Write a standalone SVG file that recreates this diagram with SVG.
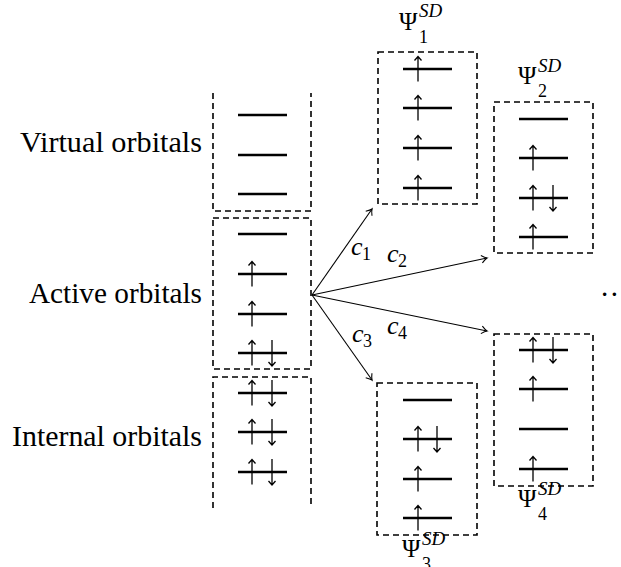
<svg xmlns="http://www.w3.org/2000/svg" xmlns:xlink="http://www.w3.org/1999/xlink" width="621" height="567" viewBox="0 0 621 567">
<style>
  .box { fill: none; stroke: #000; stroke-width: 1.6; stroke-dasharray: 6 4; }
  .orb { stroke: #000; stroke-width: 2.6; }
  .spin { fill: none; stroke: #000; stroke-width: 1.3; }
  .conn { fill: none; stroke: #000; stroke-width: 1.1; marker-end: url(#tip); }
  .lbl { font-family: "Liberation Serif", "Times New Roman", serif; font-size: 29px; fill: #000; }
  .psi { font-family: "Liberation Serif", "Times New Roman", serif; font-size: 25px; fill: #000; }
  .sup { font-family: "Liberation Serif", "Times New Roman", serif; font-size: 19px; font-style: italic; fill: #000; }
  .sub { font-family: "Liberation Serif", "Times New Roman", serif; font-size: 18px; fill: #000; }
  .ci { font-family: "Liberation Serif", "Times New Roman", serif; font-size: 26px; font-style: italic; fill: #000; }
</style>
<defs>
  <marker id="tip" markerUnits="userSpaceOnUse" markerWidth="12" markerHeight="12" refX="0" refY="0" viewBox="-7 -6 9 12" orient="auto" overflow="visible">
    <path d="M -5.5 -3.8 Q -1.8 -0.6 0 0 Q -1.8 0.6 -5.5 3.8" fill="none" stroke="#000" stroke-width="1.1"/>
  </marker>
  <g id="up"><path class="spin" d="M0,12.5 V-12.5 M-3.5,-8.5 L0,-12.5 L3.5,-8.5"/></g>
  <g id="down"><path class="spin" d="M0,-13 V13 M-3.5,9 L0,13 L3.5,9"/></g>
</defs>

<g id="label-virtual"><text class="lbl" x="202" y="152" text-anchor="end" textLength="182" lengthAdjust="spacingAndGlyphs">Virtual orbitals</text></g>
<g id="label-active"><text class="lbl" x="202" y="303" text-anchor="end" textLength="173" lengthAdjust="spacingAndGlyphs">Active orbitals</text></g>
<g id="label-internal"><text class="lbl" x="202" y="446" text-anchor="end" textLength="190" lengthAdjust="spacingAndGlyphs">Internal orbitals</text></g>

<g id="virtual">
  <path class="box" d="M213,93 V211 H311 V93"/>
  <line class="orb" x1="238" y1="115" x2="287" y2="115"/>
  <line class="orb" x1="238" y1="155" x2="287" y2="155"/>
  <line class="orb" x1="238" y1="194" x2="287" y2="194"/>
</g>

<g id="active">
  <rect class="box" x="213" y="218" width="98" height="151"/>
  <line class="orb" x1="238" y1="234" x2="287" y2="234"/>
  <line class="orb" x1="238" y1="274" x2="287" y2="274"/>
  <use xlink:href="#up" x="252" y="274"/>
  <line class="orb" x1="238" y1="314" x2="287" y2="314"/>
  <use xlink:href="#up" x="252" y="314"/>
  <line class="orb" x1="238" y1="353" x2="287" y2="353"/>
  <use xlink:href="#up" x="252" y="353"/>
  <use xlink:href="#down" x="272" y="353"/>
</g>

<g id="internal">
  <path class="box" d="M213,508 V377 H311 V508"/>
  <line class="orb" x1="238" y1="393" x2="287" y2="393"/>
  <use xlink:href="#up" x="252" y="393"/>
  <use xlink:href="#down" x="272" y="393"/>
  <line class="orb" x1="238" y1="432" x2="287" y2="432"/>
  <use xlink:href="#up" x="252" y="432"/>
  <use xlink:href="#down" x="272" y="432"/>
  <line class="orb" x1="238" y1="472" x2="287" y2="472"/>
  <use xlink:href="#up" x="252" y="472"/>
  <use xlink:href="#down" x="272" y="472"/>
</g>

<g id="psi1">
  <rect class="box" x="378" y="52" width="99" height="152"/>
  <text class="psi" x="399" y="30">Ψ</text><text class="sup" x="419" y="17">SD</text><text class="sub" x="419" y="43">1</text>
  <line class="orb" x1="403" y1="69" x2="452" y2="69"/><use xlink:href="#up" x="418" y="69"/>
  <line class="orb" x1="403" y1="108" x2="452" y2="108"/><use xlink:href="#up" x="418" y="108"/>
  <line class="orb" x1="403" y1="148" x2="452" y2="148"/><use xlink:href="#up" x="418" y="148"/>
  <line class="orb" x1="403" y1="188" x2="452" y2="188"/><use xlink:href="#up" x="418" y="188"/>
</g>

<g id="psi2">
  <rect class="box" x="494" y="102" width="99" height="151"/>
  <text class="psi" x="518" y="84">Ψ</text><text class="sup" x="538" y="72">SD</text><text class="sub" x="538" y="97">2</text>
  <line class="orb" x1="519" y1="119" x2="568" y2="119"/>
  <line class="orb" x1="519" y1="158" x2="568" y2="158"/><use xlink:href="#up" x="533" y="158"/>
  <line class="orb" x1="519" y1="198" x2="568" y2="198"/><use xlink:href="#up" x="533" y="198"/><use xlink:href="#down" x="553" y="198"/>
  <line class="orb" x1="519" y1="237" x2="568" y2="237"/><use xlink:href="#up" x="533" y="237"/>
</g>

<g id="psi3">
  <rect class="box" x="377" y="383" width="100" height="152"/>
  <text class="psi" x="402" y="557">Ψ</text><text class="sup" x="422" y="545">SD</text><text class="sub" x="422" y="570">3</text>
  <line class="orb" x1="403" y1="400" x2="452" y2="400"/>
  <line class="orb" x1="403" y1="439" x2="452" y2="439"/><use xlink:href="#up" x="418" y="439"/><use xlink:href="#down" x="437" y="439"/>
  <line class="orb" x1="403" y1="479" x2="452" y2="479"/><use xlink:href="#up" x="418" y="479"/>
  <line class="orb" x1="403" y1="518" x2="452" y2="518"/><use xlink:href="#up" x="418" y="518"/>
</g>

<g id="psi4">
  <rect class="box" x="494" y="334" width="99" height="152"/>
  <text class="psi" x="518" y="507">Ψ</text><text class="sup" x="538" y="495">SD</text><text class="sub" x="538" y="520">4</text>
  <line class="orb" x1="519" y1="350" x2="568" y2="350"/><use xlink:href="#up" x="533" y="350"/><use xlink:href="#down" x="553" y="350"/>
  <line class="orb" x1="519" y1="389" x2="568" y2="389"/><use xlink:href="#up" x="533" y="389"/>
  <line class="orb" x1="519" y1="429" x2="568" y2="429"/>
  <line class="orb" x1="519" y1="469" x2="568" y2="469"/><use xlink:href="#up" x="533" y="469"/>
</g>

<g id="dots"><text class="lbl" x="601" y="296" letter-spacing="2.5">...</text></g>

<g id="connectors">
  <line class="conn" x1="312" y1="295" x2="372" y2="209"/>
  <line class="conn" x1="312" y1="295" x2="487" y2="258"/>
  <line class="conn" x1="312" y1="295" x2="487" y2="331"/>
  <line class="conn" x1="312" y1="295" x2="372" y2="380"/>
  <text class="ci" x="351" y="255">c</text><text class="sub" x="362" y="260">1</text>
  <text class="ci" x="387" y="262">c</text><text class="sub" x="398" y="267">2</text>
  <text class="ci" x="352" y="342">c</text><text class="sub" x="363" y="347">3</text>
  <text class="ci" x="387" y="334">c</text><text class="sub" x="398" y="339">4</text>
</g>
</svg>
